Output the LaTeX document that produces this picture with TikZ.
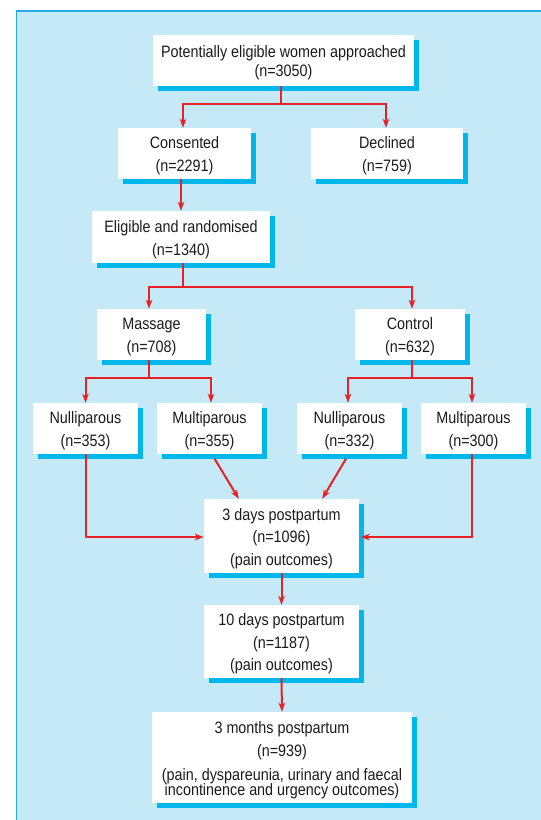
\documentclass[tikz,border=0pt]{standalone}
\usepackage{fontspec}
\setmainfont{Liberation Sans}[FakeStretch=0.87]
\usetikzlibrary{arrows.meta,shadows,calc}
\definecolor{bgblue}{RGB}{198,233,248}
\definecolor{edgeblue}{RGB}{41,171,226}
\definecolor{shad}{RGB}{0,183,235}
\definecolor{arrred}{RGB}{232,32,40}
\definecolor{txt}{RGB}{30,26,27}
\newcommand\bxfont{\fontsize{16.5}{15}\selectfont\lineskiplimit=-\maxdimen}
\begin{document}
\begin{tikzpicture}[x=1pt,y=-1pt,
  box/.style={fill=white, inner sep=0pt,
    drop shadow={shadow xshift=4.5pt, shadow yshift=-4.5pt, fill=shad, opacity=1}},
  lab/.style={align=center, text=txt, font=\bxfont, inner sep=0pt, yshift=-2.5pt},
  link/.style={draw=arrred, line width=2pt},
  arr/.style={link, -{Stealth[length=9pt,width=6.5pt,inset=2.5pt]}},
]
\useasboundingbox (0,0) rectangle (541,820);
\fill[bgblue] (16.5,11) rectangle (548,828);
\draw[edgeblue, line width=1.3pt] (16.5,828) -- (16.5,11) -- (548,11);

% boxes
\node[box, minimum width=261pt, minimum height=51pt,
  label={[lab]center:{Potentially eligible women approached\\[4pt](n=3050)}}] (top) at (283.5,60.5) {};
\node[box, minimum width=133pt, minimum height=51pt,
  label={[lab]center:{Consented\\[8pt](n=2291)}}] (cons) at (184.5,153.5) {};
\node[box, minimum width=152pt, minimum height=51pt,
  label={[lab]center:{Declined\\[8pt](n=759)}}] (decl) at (387,153.5) {};
\node[box, minimum width=178pt, minimum height=52pt,
  label={[lab]center:{Eligible and randomised\\[8pt](n=1340)}}] (elig) at (181,237) {};
\node[box, minimum width=109pt, minimum height=51pt,
  label={[lab]center:{Massage\\[8pt](n=708)}}] (mass) at (151.5,334.5) {};
\node[box, minimum width=110pt, minimum height=51pt,
  label={[lab]center:{Control\\[8pt](n=632)}}] (ctrl) at (410,334.5) {};
\node[box, minimum width=105pt, minimum height=51pt,
  label={[lab]center:{Nulliparous\\[8pt](n=353)}}] (n1) at (85.5,428.5) {};
\node[box, minimum width=105pt, minimum height=51pt,
  label={[lab]center:{Multiparous\\[8pt](n=355)}}] (m1) at (209.5,428.5) {};
\node[box, minimum width=105pt, minimum height=51pt,
  label={[lab]center:{Nulliparous\\[8pt](n=332)}}] (n2) at (349.5,428.5) {};
\node[box, minimum width=105pt, minimum height=51pt,
  label={[lab]center:{Multiparous\\[8pt](n=300)}}] (m2) at (473.5,428.5) {};
\node[box, minimum width=155pt, minimum height=74pt,
  label={[lab]center:{3 days postpartum\\[7.5pt](n=1096)\\[7.5pt](pain outcomes)}}] (d3) at (281.5,536) {};
\node[box, minimum width=155pt, minimum height=73pt,
  label={[lab]center:{10 days postpartum\\[7.5pt](n=1187)\\[7.5pt](pain outcomes)}}] (d10) at (281.5,641.5) {};
\node[box, minimum width=260pt, minimum height=91pt,
  label={[lab]center:{3 months postpartum\\[8.5pt](n=939)\\[9pt](pain, dyspareunia, urinary and faecal\\incontinence and urgency outcomes)}}] (m3) at (282,757.5) {};

% connectors
\coordinate (j1) at (281,104);
\draw[link] (top.south -| j1) -- (j1);
\draw[arr] (j1) -| ($(cons.north)+(-1.5,0)$);
\draw[arr] (j1) -| ($(decl.north)+(-1,0)$);

\draw[arr] (cons.south -| elig.north) -- (elig.north);

\coordinate (j2) at (183,287);
\draw[link] (elig.south -| j2) -- (j2);
\draw[arr] (j2) -| ($(mass.north)+(-2.5,0)$);
\draw[arr] (j2) -| ($(ctrl.north)+(2,0)$);

\coordinate (j3) at (149,378);
\draw[link] ($(mass.south)+(-2.5,0)$) -- (j3);
\draw[arr] (j3) -| (n1.north);
\draw[arr] (j3) -| ($(m1.north)+(1.5,0)$);

\coordinate (j4) at (412,378);
\draw[link] ($(ctrl.south)+(2,0)$) -- (j4);
\draw[arr] (j4) -| ($(n2.north)+(-1.5,0)$);
\draw[arr] (j4) -| ($(m2.north)+(-1.5,0)$);

\draw[arr] (n1.south) |- ($(d3.west)+(0,1)$);
\draw[arr] ($(m2.south)+(-1.5,0)$) |- ($(d3.east)+(1.5,1)$);
\draw[arr] ($(m1.south)+(5,4.5)$) -- ($(d3.north west)+(35,0)$);
\draw[arr] ($(n2.south)+(-3.5,4.5)$) -- ($(d3.north east)+(-37,0)$);

\draw[arr] (d3.south) -- (d10.north);
\draw[arr] (d10.south) -- (m3.north);
\end{tikzpicture}
\end{document}
